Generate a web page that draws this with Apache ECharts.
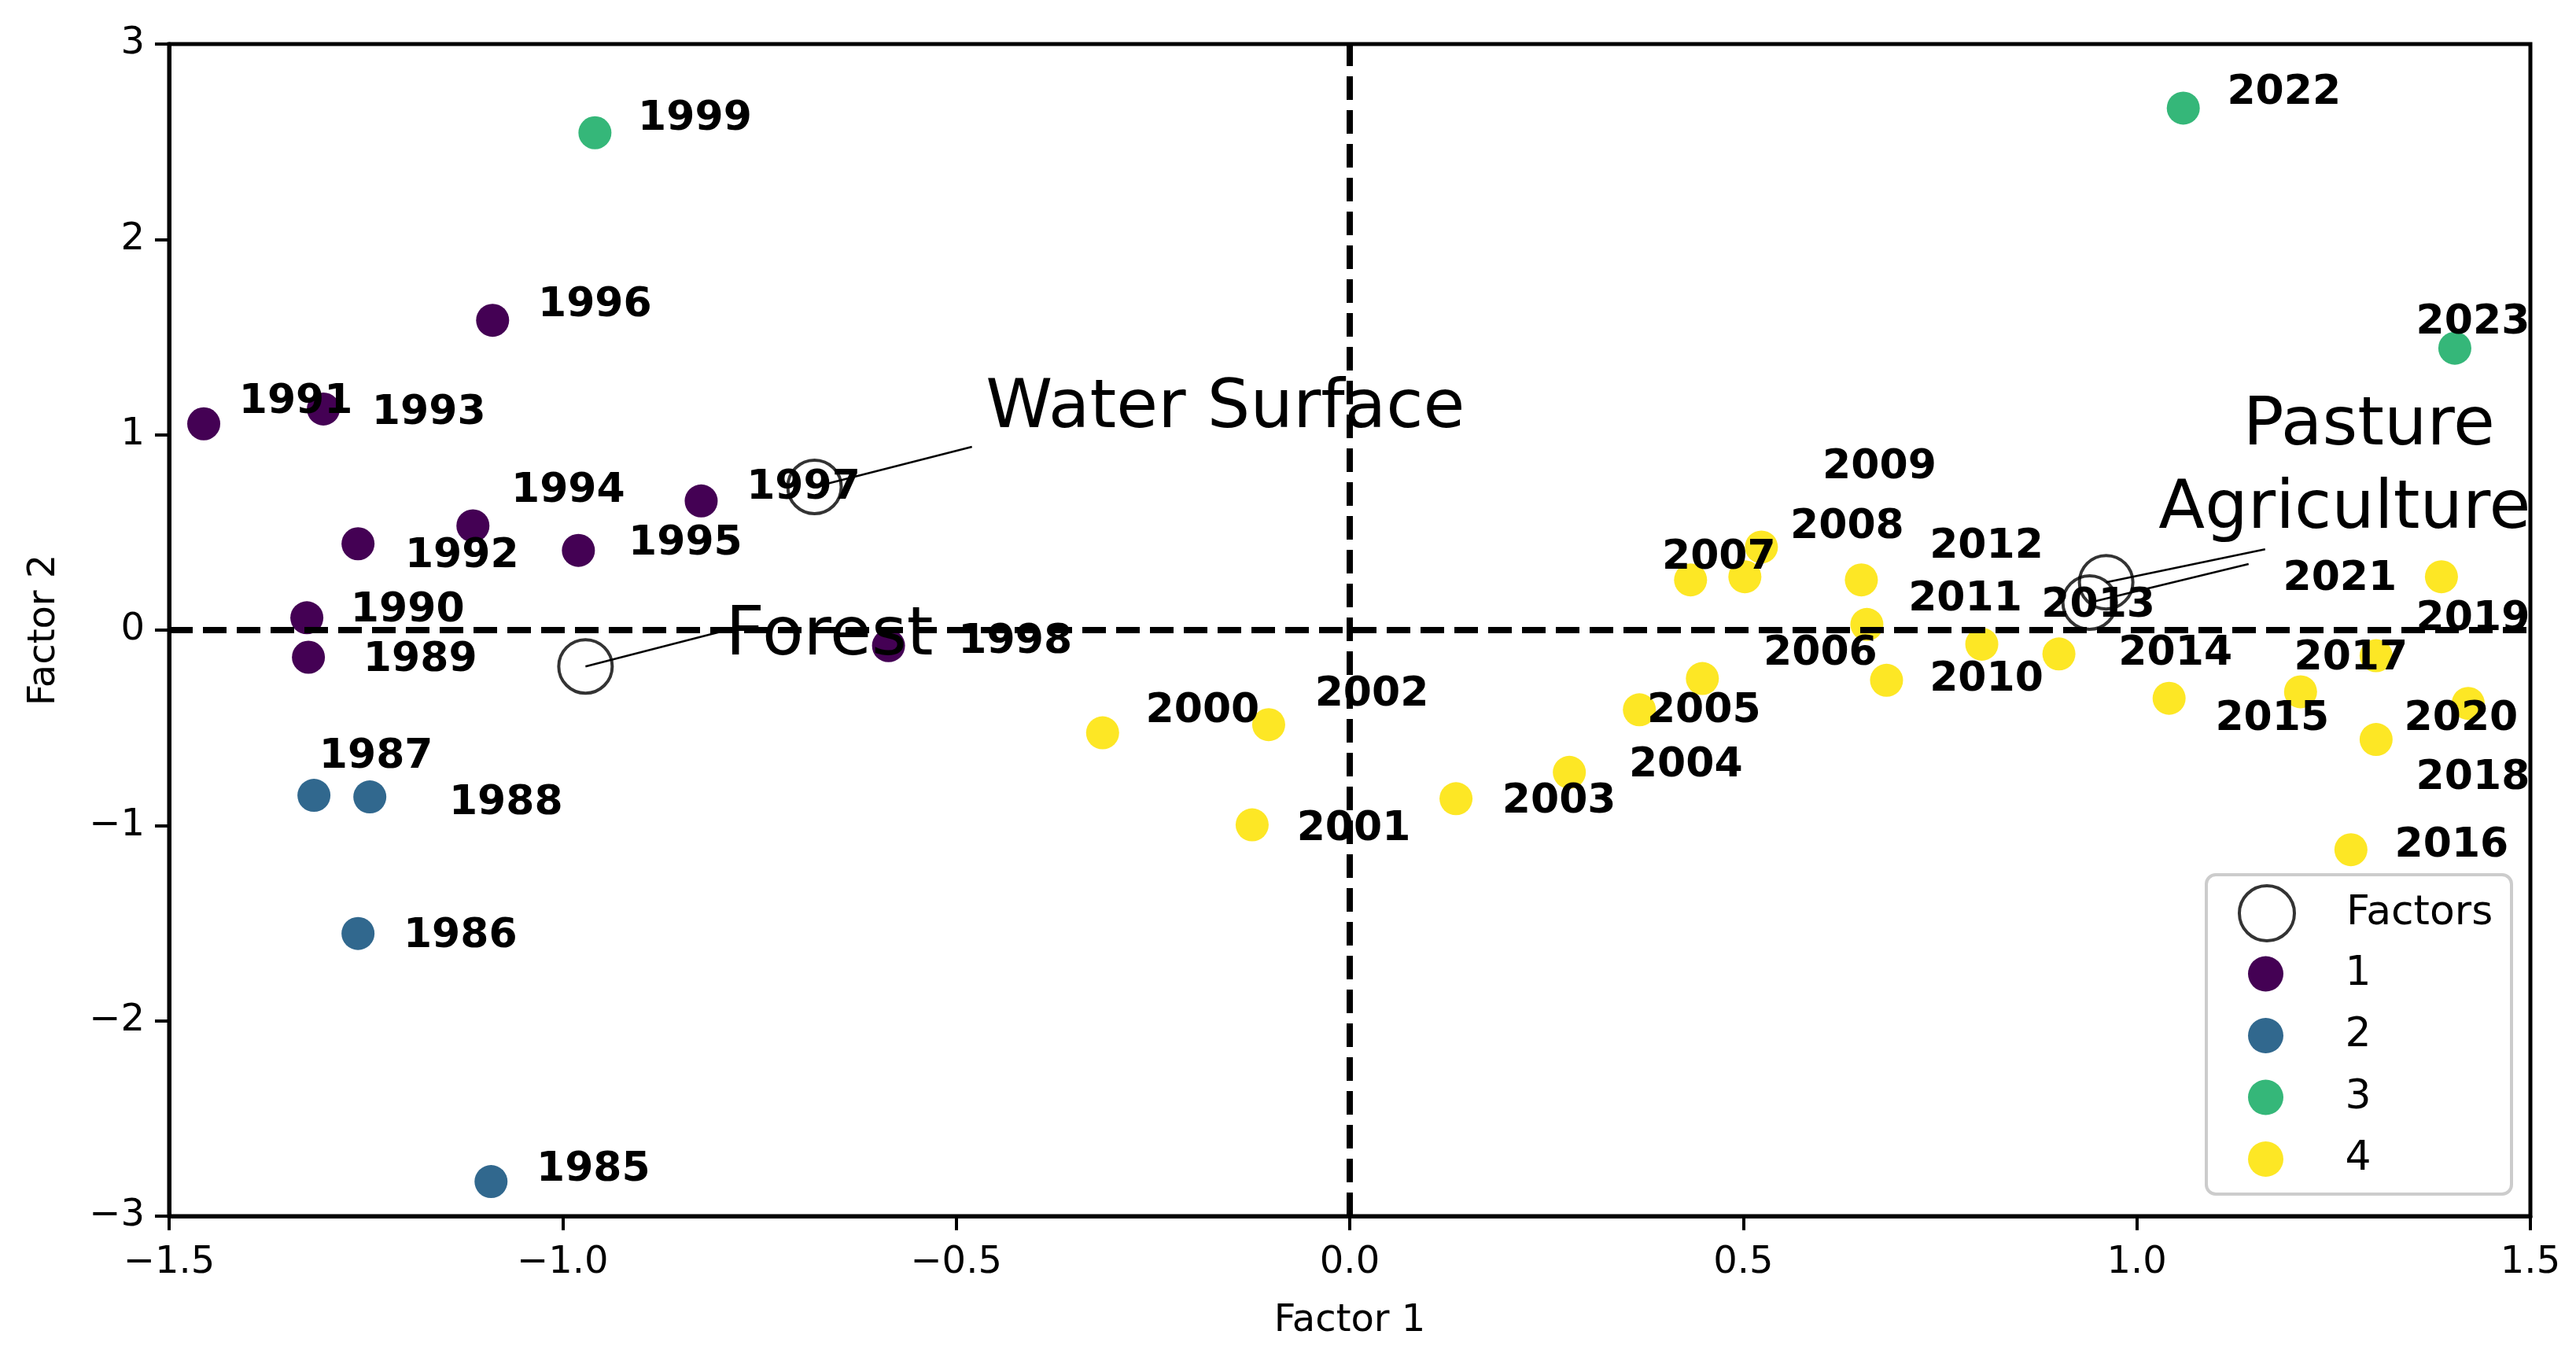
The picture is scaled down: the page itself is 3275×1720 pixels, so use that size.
<!DOCTYPE html>
<html>
<head>
<meta charset="utf-8">
<title>Factor map</title>
<script src="https://cdn.jsdelivr.net/npm/echarts@6/dist/echarts.min.js"></script>
<style>
  html, body { margin: 0; padding: 0; background: #fff; }
  #factorChart { width: 3275px; height: 1720px; }
</style>
</head>
<body>
<div id="factorChart"></div>
<script>
  // yearly scores on the two factors
  const years = [
    1985, 1986, 1987, 1988, 1989, 1990, 1991, 1992, 1993, 1994, 1995, 1996, 1997, 1998, 1999,
    2000, 2001, 2002, 2003, 2004, 2005, 2006, 2007, 2008, 2009, 2010, 2011, 2012, 2013, 2014,
    2015, 2016, 2017, 2018, 2019, 2020, 2021, 2022, 2023,
  ];
  const factor1 = [
    -1.091, -1.260, -1.316, -1.245, -1.323, -1.325, -1.456, -1.260, -1.304, -1.114, -0.980, -1.089, -0.824, -0.586, -0.959,
    -0.314, -0.124, -0.103, 0.135, 0.279, 0.368, 0.448, 0.433, 0.502, 0.523, 0.682, 0.657, 0.650, 0.803, 0.901,
    1.041, 1.272, 1.208, 1.304, 1.304, 1.421, 1.387, 1.059, 1.404,
  ];
  const factor2 = [
    -2.823, -1.553, -0.846, -0.854, -0.139, 0.063, 1.056, 0.442, 1.132, 0.534, 0.408, 1.586, 0.661, -0.080, 2.546,
    -0.526, -0.997, -0.484, -0.863, -0.728, -0.408, -0.248, 0.257, 0.273, 0.425, -0.257, 0.029, 0.257, -0.072, -0.122,
    -0.349, -1.124, -0.316, -0.560, -0.131, -0.375, 0.273, 2.672, 1.443,
  ];
  const cluster = [
    2, 2, 2, 2, 1, 1, 1, 1, 1, 1, 1, 1, 1, 1, 3,
    4, 4, 4, 4, 4, 4, 4, 4, 4, 4, 4, 4, 4, 4, 4,
    4, 4, 4, 4, 4, 4, 4, 3, 3,
  ];
  const clusterNames = ['1', '2', '3', '4'];

  // land cover factors
  const factorNames = ['Water Surface', 'Forest', 'Pasture', 'Agriculture'];
  const factorX = [-0.680, -0.971, 0.961, 0.940];
  const factorY = [0.733, -0.186, 0.245, 0.141];

  // where the annotation texts sit (data units, like xytext)
  const yearLabelX = [
    -0.961, -1.130, -1.237, -1.072, -1.181, -1.197, -1.339, -1.128, -1.170, -0.993, -0.844, -0.959, -0.694, -0.425, -0.832,
    -0.187, 0.005, 0.028, 0.266, 0.427, 0.450, 0.598, 0.469, 0.632, 0.673, 0.809, 0.782, 0.809, 0.951, 1.049,
    1.172, 1.400, 1.272, 1.427, 1.427, 1.412, 1.258, 1.187, 1.427,
  ];
  const yearLabelY = [
    -2.739, -1.544, -0.627, -0.863, -0.131, 0.122, 1.191, 0.400, 1.132, 0.736, 0.467, 1.687, 0.753, -0.038, 2.638,
    -0.391, -0.997, -0.307, -0.854, -0.669, -0.391, -0.097, 0.391, 0.551, 0.854, -0.232, 0.181, 0.450, 0.147, -0.097,
    -0.433, -1.082, -0.122, -0.736, 0.080, -0.433, 0.282, 2.773, 1.595,
  ];
  const factorTextX = [-0.158, -0.661, 1.295, 1.264];
  const factorTextY = [1.160, -0.004, 1.073, 0.644];
  const factorLineEndX = [-0.480, -0.799, 1.163, 1.142];
  const factorLineEndY = [0.938, -0.008, 0.414, 0.338];

  const xTicks = { min: -1.5, max: 1.5, step: 0.5 };
  const yTicks = { min: -3, max: 3, step: 1 };

  let myChart = null;
  const colors = ['#440154', '#31688e', '#35b779', '#fde725'];
  const font = 'DejaVu Sans';
  const minus = (s) => s.replace('-', '\u2212');

  function initChart() {
    const dom = document.getElementById('factorChart');
    if (dom) {
      myChart = echarts.init(dom, null, { renderer: 'canvas' });
      setOption();
    }
  }

  // plain black text, no auto stroke from 'inside' placement
  function textLabel(size, weight, dy) {
    return {
      show: true,
      position: 'inside',
      offset: [0, dy],
      formatter: '{b}',
      color: '#000',
      opacity: 1,
      textBorderWidth: 0,
      textBorderColor: 'rgba(0,0,0,0)',
      fontSize: size,
      fontWeight: weight,
      fontFamily: font,
    };
  }

  function setOption() {
    const pointSeries = clusterNames.map((name, c) => ({
      name: name,
      type: 'scatter',
      z: 2,
      symbol: 'circle',
      symbolSize: 42,
      itemStyle: { color: colors[c], opacity: 1 },
      data: years
        .map((y, i) => ({ value: [factor1[i], factor2[i]], name: String(y), c: cluster[i] }))
        .filter((d) => d.c === c + 1)
        .map((d) => ({ value: d.value, name: d.name })),
    }));

    const connectorSeries = factorNames.map((name, i) => ({
      name: 'link ' + name,
      type: 'line',
      z: 6,
      silent: true,
      symbol: 'none',
      lineStyle: { color: '#000', width: 2.5 },
      data: [
        [factorX[i], factorY[i]],
        [factorLineEndX[i], factorLineEndY[i]],
      ],
    }));

    const options = {
      backgroundColor: '#fff',
      animation: false,
      grid: {
        left: 215,
        top: 56,
        width: 3002,
        height: 1490,
        show: true,
        borderColor: '#000',
        borderWidth: 5,
        backgroundColor: 'transparent',
      },
      xAxis: {
        type: 'value',
        min: xTicks.min,
        max: xTicks.max,
        interval: xTicks.step,
        splitLine: { show: false },
        axisLine: { show: true, onZero: false, lineStyle: { color: '#000', width: 5 } },
        axisTick: { show: true, length: 18, lineStyle: { color: '#000', width: 4 } },
        axisLabel: {
          color: '#000',
          fontSize: 48,
          fontFamily: font,
          margin: 36,
          formatter: (v) => minus(v.toFixed(1)),
        },
        name: 'Factor 1',
        nameLocation: 'middle',
        nameGap: 110,
        nameTextStyle: { color: '#000', fontSize: 48, fontFamily: font },
      },
      yAxis: {
        type: 'value',
        min: yTicks.min,
        max: yTicks.max,
        interval: yTicks.step,
        splitLine: { show: false },
        axisLine: { show: true, onZero: false, lineStyle: { color: '#000', width: 5 } },
        axisTick: { show: true, length: 18, lineStyle: { color: '#000', width: 4 } },
        axisLabel: {
          color: '#000',
          fontSize: 48,
          fontFamily: font,
          margin: 31,
          formatter: (v) => minus(String(v)),
        },
        name: 'Factor 2',
        nameLocation: 'middle',
        nameGap: 134,
        nameTextStyle: { color: '#000', fontSize: 48, fontFamily: font },
      },
      legend: [
        {
          z: 60,
          selectedMode: false,
          left: 2845, // left edge of the circle, legend is laid out by its visible box
          top: 1124,
          padding: 0,
          itemWidth: 192,
          itemHeight: 70,
          textStyle: { color: '#000', fontSize: 52, fontFamily: font },
          data: [
            {
              name: 'Factors',
              icon: 'circle',
              itemStyle: { color: 'rgba(0,0,0,0)', borderColor: '#000', borderWidth: 4 },
            },
          ],
        },
        {
          z: 60,
          selectedMode: false,
          orient: 'vertical',
          left: 2858,
          top: 1212,
          padding: 0,
          itemWidth: 192,
          itemHeight: 45,
          itemGap: 26.5,
          textStyle: { color: '#000', fontSize: 52, fontFamily: font },
          data: clusterNames.map((n) => ({ name: n, icon: 'circle' })),
        },
      ],
      graphic: [
        {
          type: 'rect',
          z: 50,
          shape: { x: 2805, y: 1112, width: 388, height: 406, r: 12 },
          style: { fill: 'rgba(255,255,255,0.8)', stroke: '#cccccc', lineWidth: 4 },
        },
      ],
      series: [
        ...pointSeries,
        {
          // dashed zero lines, drawn over the points
          name: 'zero lines',
          type: 'scatter',
          z: 3,
          data: [],
          markLine: {
            silent: true,
            symbol: 'none',
            label: { show: false },
            lineStyle: { color: '#000', width: 8, type: [30, 13] },
            data: [{ xAxis: 0 }, { yAxis: 0 }],
          },
        },
        {
          name: 'year labels',
          type: 'scatter',
          z: 4,
          silent: true,
          symbolSize: 1,
          itemStyle: { color: 'rgba(0,0,0,0)' },
          label: textLabel(52, 'bold', 6),
          data: years.map((y, i) => ({ value: [yearLabelX[i], yearLabelY[i]], name: String(y) })),
        },
        {
          name: 'Factors',
          type: 'scatter',
          z: 5,
          symbol: 'circle',
          symbolSize: 68,
          itemStyle: { color: 'rgba(0,0,0,0)', borderColor: '#000', borderWidth: 4 },
          data: factorNames.map((n, i) => ({ value: [factorX[i], factorY[i]], name: n })),
        },
        ...connectorSeries,
        {
          name: 'factor labels',
          type: 'scatter',
          z: 7,
          silent: true,
          symbolSize: 1,
          itemStyle: { color: 'rgba(0,0,0,0)' },
          label: textLabel(86, 'normal', 8),
          data: factorNames.map((n, i) => ({ value: [factorTextX[i], factorTextY[i]], name: n })),
        },
      ],
    };
    if (myChart) {
      myChart.setOption(options);
    }
  }

  initChart();
</script>
</body>
</html>
